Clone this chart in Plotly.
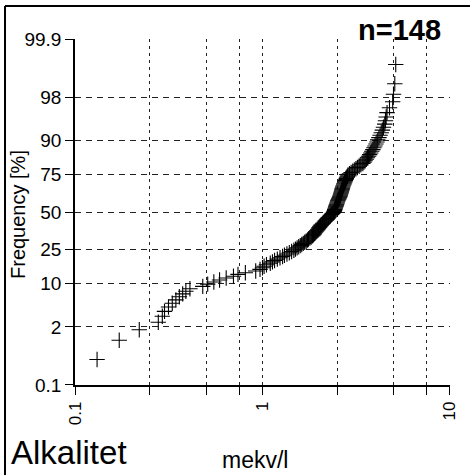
import plotly.graph_objects as go
from statistics import NormalDist

# Sorted alkalinity values (mekv/l), n = 148
values = [
    0.131, 0.172, 0.220, 0.278, 0.292,
    0.300, 0.315, 0.330, 0.345, 0.360, 0.375, 0.390, 0.410,
    0.480, 0.510, 0.550, 0.590, 0.640, 0.700, 0.740, 0.810,
    0.920, 0.970, 1.000, 1.020, 1.050, 1.100, 1.130, 1.160, 1.200, 1.240,
    1.280, 1.310, 1.350, 1.390, 1.430, 1.470,
    1.50, 1.53, 1.56, 1.59, 1.62, 1.65, 1.68, 1.71, 1.74, 1.76, 1.79, 1.82, 1.85,
    1.87, 1.89, 1.91, 1.93, 1.95, 1.97, 1.99, 2.00, 2.02, 2.04,
    2.06, 2.09, 2.11, 2.14, 2.16, 2.19, 2.21, 2.24, 2.26, 2.29, 2.31, 2.34, 2.37, 2.40,
    2.41, 2.42, 2.43, 2.44, 2.45, 2.46, 2.47, 2.48, 2.49, 2.50, 2.51, 2.52, 2.53, 2.55, 2.56, 2.58,
    2.59, 2.60, 2.61, 2.62, 2.63, 2.64, 2.65, 2.66, 2.67, 2.68,
    2.69, 2.71, 2.72, 2.74, 2.75, 2.77, 2.79, 2.80, 2.82, 2.84, 2.86,
    2.91, 2.97, 3.03, 3.09, 3.15, 3.21, 3.28, 3.35, 3.43,
    3.48, 3.53, 3.58, 3.63, 3.68, 3.73, 3.78, 3.83, 3.88, 3.93,
    3.98, 4.03, 4.08, 4.12,
    4.18, 4.24, 4.30, 4.36, 4.42, 4.49,
    4.53, 4.57, 4.62, 4.76, 4.95, 5.00, 5.08, 5.14,
]

ytick_pct = [0.1, 2, 10, 25, 50, 75, 90, 98, 99.9]
ytick_text = ["0.1", "2", "10", "25", "50", "75", "90", "98", "99.9"]
xtick_vals = [0.1, 0.25, 0.5, 0.75, 1, 2.5, 5, 7.5, 10]
xtick_text = ["0.1", "", "", "", "1", "", "", "", "10"]

title_text = "Alkalitet"
unit_text = "mekv/l"
n_text = "n=148"
ytitle_text = "Frequency [%]"

nd = NormalDist()
n = len(values)
# plotting positions (Blom) on a normal-probability axis
zpos = [nd.inv_cdf((r - 0.375) / (n + 0.25)) for r in range(1, n + 1)]
ytick_z = [nd.inv_cdf(p / 100.0) for p in ytick_pct]

FONT = "Liberation Sans, Arial, Helvetica, sans-serif"

W, H = 470, 475
L, R, T, B = 75, 20, 39, 90
PW, PH = W - L - R, H - T - B


def px(x):
    return (x - L) / PW


def py(y):
    return (H - B - y) / PH


fig = go.Figure()
fig.add_trace(go.Scatter(
    x=values, y=zpos, mode="markers",
    marker=dict(symbol="cross-thin", size=11, line=dict(color="black", width=1.1)),
    showlegend=False, hoverinfo="x+y",
))

fig.update_layout(
    width=W, height=H,
    margin=dict(l=L, r=R, t=T, b=B, autoexpand=False),
    paper_bgcolor="white", plot_bgcolor="white",
    font=dict(family=FONT, color="black", size=18),
    xaxis=dict(
        type="log", range=[-1.0005, 1.0005],
        tickmode="array", tickvals=xtick_vals, ticktext=xtick_text,
        tickangle=-90, ticks="outside", ticklen=8, tickwidth=1, tickcolor="black",
        showline=True, linecolor="black", linewidth=1.5,
        showgrid=True, gridcolor="#222", gridwidth=1, griddash="3px,4px",
        zeroline=False, tickfont=dict(size=17, family=FONT),
    ),
    yaxis=dict(
        range=[ytick_z[0] - 0.001, ytick_z[-1] + 0.001],
        tickmode="array", tickvals=ytick_z, ticktext=ytick_text,
        ticks="outside", ticklen=8, tickwidth=1, tickcolor="black",
        showline=True, linecolor="black", linewidth=1.5,
        showgrid=True, gridcolor="#222", gridwidth=1, griddash="6px,5px",
        zeroline=False, tickfont=dict(size=19, family=FONT),
    ),
)

fig.add_annotation(xref="paper", yref="paper", x=px(18), y=py(215),
                   xanchor="center", yanchor="middle",
                   text=ytitle_text, textangle=-90, showarrow=False,
                   font=dict(size=20, family=FONT))
fig.add_annotation(xref="paper", yref="paper", x=px(443), y=py(30),
                   xanchor="right", yanchor="middle",
                   text="<b>" + n_text + "</b>", showarrow=False,
                   font=dict(size=29, family=FONT))
fig.add_annotation(xref="paper", yref="paper", x=px(9), y=py(452),
                   xanchor="left", yanchor="middle",
                   text=title_text, showarrow=False,
                   font=dict(size=33, family=FONT))
fig.add_annotation(xref="paper", yref="paper", x=px(220), y=py(460),
                   xanchor="left", yanchor="middle",
                   text=unit_text, showarrow=False,
                   font=dict(size=23, family=FONT))

# figure frame (left and top border)
fig.add_shape(type="line", xref="paper", yref="paper",
              x0=px(5), x1=px(5), y0=py(6), y1=py(H + 2),
              line=dict(color="black", width=2))
fig.add_shape(type="line", xref="paper", yref="paper",
              x0=px(5), x1=px(W + 2), y0=py(6), y1=py(6),
              line=dict(color="black", width=2))

fig.write_html("out.html", config={"displayModeBar": False},
               post_script="document.body.style.margin='0px';")
